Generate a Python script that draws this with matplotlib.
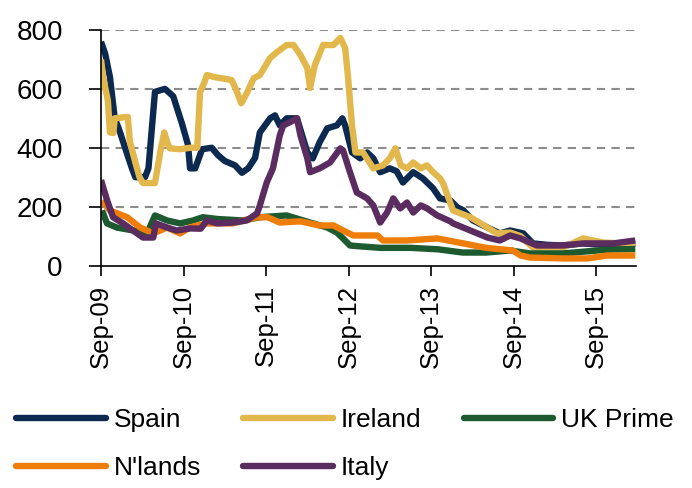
import matplotlib
matplotlib.use("Agg")
import matplotlib.pyplot as plt

plt.rcParams['font.family'] = ['Liberation Sans', 'DejaVu Sans']

# x positions are months since Sep-2009
tick_months = [0, 12, 24, 36, 48, 60, 72]
tick_labels = ["Sep-09", "Sep-10", "Sep-11", "Sep-12", "Sep-13", "Sep-14", "Sep-15"]
y_ticks = [0, 200, 400, 600, 800]

spain_m = [0.0, 0.6, 1.3, 1.6, 2.0, 2.5, 2.8, 3.5, 4.5, 5.0, 6.4, 6.9, 7.85, 9.3, 10.5, 11.8,
           12.65, 12.95, 13.7, 14.7, 16.1, 17.0, 18.0, 19.5, 20.5, 21.4, 22.4, 23.1, 24.6, 25.3,
           26.0, 27.0, 28.5, 30.0, 30.8, 31.8, 32.9, 34.3, 35.1, 35.5, 36.5, 37.7, 38.7, 39.6,
           40.6, 42.0, 43.0, 43.9, 45.4, 46.8, 48.3, 49.3, 50.8, 51.8, 52.7, 54.1, 56.2, 58.0,
           59.5, 61.4, 62.8, 65.0, 67.0, 70.0, 72.0, 74.0, 76.0, 77.7]
spain_v = [760, 720, 640, 580, 500, 470, 450, 400, 330, 300, 300, 330, 590, 600, 575, 480,
           410, 330, 330, 395, 400, 375, 355, 340, 315, 330, 365, 452, 500, 510,
           476, 500, 500, 384, 364, 419, 466, 476, 500, 476, 384, 364, 384, 364,
           317, 330, 320, 282, 317, 296, 262, 228, 221, 198, 187, 153, 129, 109,
           119, 109, 75, 70, 68, 75, 72, 70, 72, 75]

ireland_m = [0.0, 0.3, 1.0, 1.3, 1.8, 2.0, 3.9, 4.2, 5.0, 5.6, 6.1, 7.85, 8.6, 9.2, 9.6, 10.0,
             11.5, 13.0, 14.0, 14.4, 15.0, 15.4, 16.5, 17.5, 19.0, 19.6, 20.4, 21.3, 22.2, 23.1,
             24.6, 25.6, 27.0, 28.0, 29.0, 30.0, 30.4, 31.1, 32.3, 33.8, 34.8, 35.5, 35.9, 36.5,
             37.0, 38.1, 39.6, 41.0, 42.0, 42.8, 43.6, 44.5, 45.4, 46.5, 47.4, 48.3, 49.3, 49.75,
             51.2, 53.7, 56.2, 57.6, 59.5, 61.0, 62.8, 67.2, 70.1, 73.0, 75.9, 77.7]
ireland_v = [700, 640, 560, 452, 450, 500, 505, 420, 350, 300, 280, 280, 384, 452, 420, 398,
             395, 400, 400, 589, 620, 647, 640, 636, 630, 600, 551, 590, 636, 647,
             705, 725, 749, 749, 715, 671, 603, 681, 749, 749, 773, 739, 647, 476,
             384, 384, 330, 340, 364, 398, 340, 330, 350, 330, 340, 317, 296, 279,
             187, 164, 129, 109, 112, 100, 61, 61, 92, 78, 75, 75]

uk_m = [0.15, 0.87, 2.3, 4.65, 6.7, 7.85, 9.6, 11.5, 13.4, 14.8, 16.9, 20.6, 23.1, 27.0, 30.4,
        32.9, 34.3, 35.2, 36.2, 37.7, 40.6, 45.0, 49.0, 52.6, 56.0, 59.5, 62.4, 67.2, 72.2,
        74.0, 77.7]
uk_v = [187, 143, 129, 119, 109, 170, 153, 143, 153, 164, 158, 153, 164, 170, 146,
        129, 112, 92, 68, 65, 60, 60, 55, 44, 44, 51, 41, 41, 51,
        54, 56]

nl_m = [0.15, 1.3, 3.8, 5.7, 7.6, 9.6, 11.5, 13.0, 15.4, 19.2, 22.7, 24.2, 26.0, 29.0, 31.8,
        33.8, 35.8, 36.7, 40.2, 41.0, 44.5, 48.9, 52.7, 56.0, 59.9, 61.0, 62.4, 67.2, 70.7,
        73.6, 77.7]
nl_v = [221, 187, 164, 129, 109, 129, 109, 130, 143, 143, 164, 164, 146, 150, 136,
        136, 112, 102, 102, 85, 85, 92, 75, 60, 51, 34, 27, 24, 24,
        34, 34]

italy_m = [0.0, 0.9, 1.75, 3.2, 4.65, 6.1, 7.6, 8.0, 9.6, 11.0, 13.0, 14.5, 15.4, 16.9, 19.2,
           21.2, 22.7, 23.1, 24.1, 25.0, 26.0, 26.5, 27.5, 28.5, 29.0, 30.0, 30.4, 31.8, 33.3,
           34.8, 35.2, 36.2, 37.2, 38.7, 39.6, 40.6, 41.6, 42.5, 43.5, 44.5, 45.4, 46.5, 47.4,
           48.9, 50.8, 51.2, 53.7, 56.2, 58.0, 59.5, 61.0, 63.4, 67.2, 70.1, 74.5, 77.7]
italy_v = [290, 221, 164, 143, 119, 95, 95, 143, 129, 119, 126, 125, 153, 143, 146,
           153, 177, 204, 282, 330, 442, 476, 487, 500, 442, 364, 317, 330, 350,
           398, 391, 317, 248, 228, 204, 146, 180, 228, 194, 214, 180, 204, 194,
           170, 150, 143, 119, 95, 85, 102, 92, 68, 68, 75, 75, 85]

names = ["Spain", "Ireland", "UK Prime", "N'lands", "Italy"]
colors = ["#0c2a50", "#e2b84c", "#1d5a30", "#ef7d0a", "#5b2c5f"]
series = [(spain_m, spain_v), (ireland_m, ireland_v), (uk_m, uk_v), (nl_m, nl_v), (italy_m, italy_v)]

fig = plt.figure(figsize=(6.92, 4.88), dpi=100)
ax = fig.add_axes([101 / 692, 1 - 265.5 / 488, (636 - 101) / 692, (265.5 - 30) / 488])

for (m, v), name, c in zip(series, names, colors):
    ax.plot(m, v, color=c, lw=4.6, label=name, solid_joinstyle='round', solid_capstyle='butt')

ax.set_xlim(0, 77.8)
ax.set_ylim(0, 800)
ax.set_yticks(y_ticks)
ax.set_xticks(tick_months)
ax.set_xticklabels(tick_labels, rotation=90, fontsize=18.5)
ax.tick_params(axis='y', labelsize=20, length=9, width=1.2, pad=18.5)
ax.tick_params(axis='x', length=7, width=1.2, pad=7)
for y in y_ticks[1:]:
    ax.axhline(y, color="#8c8c8c", lw=1.5, dashes=(4, 3), zorder=0)
for s in ["top", "right"]:
    ax.spines[s].set_visible(False)
for s in ["left", "bottom"]:
    ax.spines[s].set_linewidth(1.2)

handles, labels = ax.get_legend_handles_labels()
order = [0, 3, 1, 4, 2]
leg = fig.legend([handles[i] for i in order], [labels[i] for i in order],
                 loc="upper left", bbox_to_anchor=(16 / 692, 1 - 408 / 488), ncol=3,
                 frameon=False, fontsize=19, handlelength=3.4, handletextpad=0.3,
                 columnspacing=1.6, labelspacing=0.9, borderpad=0, borderaxespad=0)
for h in leg.get_lines():
    h.set_linewidth(4.6)
    h.set_solid_capstyle('round')

fig.savefig("out.png", dpi=100)
